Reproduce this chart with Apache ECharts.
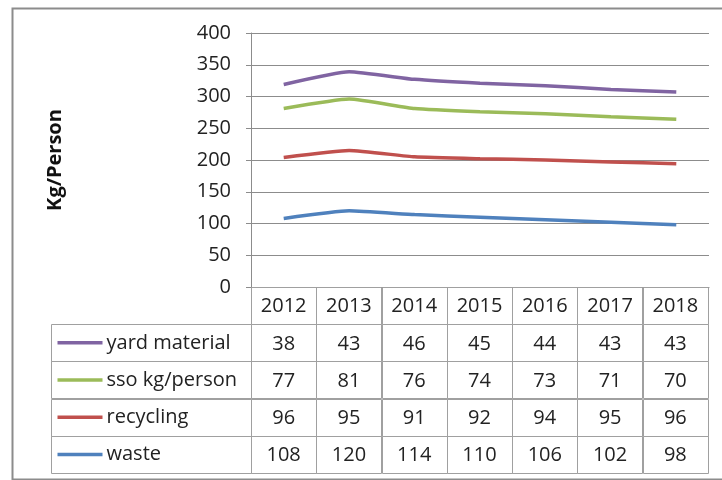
<!DOCTYPE html>
<html>
<head>
<meta charset="utf-8">
<script src="https://cdn.jsdelivr.net/npm/echarts@6/dist/echarts.min.js"></script>
<style>
html, body { margin: 0; padding: 0; background: #fff; }
#main { width: 722px; height: 480px; }
</style>
</head>
<body>
<div id="main"></div>
<script>
// 数据
var years = ['2012', '2013', '2014', '2015', '2016', '2017', '2018'];
var rowNames = ['yard material', 'sso kg/person', 'recycling', 'waste'];
var yardData = [38, 43, 46, 45, 44, 43, 43];
var ssoData = [77, 81, 76, 74, 73, 71, 70];
var recyclingData = [96, 95, 91, 92, 94, 95, 96];
var wasteData = [108, 120, 114, 110, 106, 102, 98];
var yMin = 0, yMax = 400, yStep = 50;

var rowColors = ['#8064A2', '#9BBB59', '#C0504D', '#4F81BD'];
var font = '"Open Sans", Lato, sans-serif';

// 表格: 第0行是年份, 其余行按图例顺序
var tableRows = [years, yardData, ssoData, recyclingData, wasteData];
var tableCells = [];
for (var r = 0; r < tableRows.length; r++) {
	for (var c = 0; c < years.length; c++) {
		tableCells.push([c, r]);
	}
}
var labelCells = [];
for (var i = 0; i < rowNames.length; i++) {
	labelCells.push([0, i + 1]);
}

function cellRect(params, api) {
	var center = api.coord([api.value(0), api.value(1)]);
	var size = api.size([1, 1]);
	var x = Math.round(center[0] - size[0] / 2) + 0.5;
	var y = Math.round(center[1] - size[1] / 2) + 0.5;
	return { x: x, y: y, w: Math.round(size[0]), h: Math.round(size[1]), cx: center[0], cy: center[1] };
}

function renderValueCell(params, api) {
	var b = cellRect(params, api);
	var txt = String(tableRows[api.value(1)][api.value(0)]);
	return {
		type : 'group',
		children : [ {
			type : 'rect',
			shape : { x : b.x, y : b.y, width : b.w, height : b.h },
			style : { fill : 'none', stroke : '#a0a0a0', lineWidth : 1 }
		}, {
			type : 'text',
			style : {
				x : b.cx, y : b.cy + 1, text : txt,
				align : 'center', verticalAlign : 'middle',
				font : '20px ' + font, fill : '#222'
			}
		} ]
	};
}

function renderLabelCell(params, api) {
	var b = cellRect(params, api);
	var idx = api.value(1) - 1;
	return {
		type : 'group',
		children : [ {
			type : 'rect',
			shape : { x : b.x, y : b.y, width : b.w, height : b.h },
			style : { fill : 'none', stroke : '#a0a0a0', lineWidth : 1 }
		}, {
			type : 'line',
			shape : { x1 : b.x + 6, y1 : b.cy, x2 : b.x + 51, y2 : b.cy },
			style : { stroke : rowColors[idx], lineWidth : 3.5 }
		}, {
			type : 'text',
			style : {
				x : b.x + 55, y : b.cy, text : rowNames[idx],
				align : 'left', verticalAlign : 'middle',
				font : '20px ' + font, fill : '#222'
			}
		} ]
	};
}

function lineSeries(name, data, color) {
	return {
		name : name,
		type : 'line',
		stack : 'total',
		smooth : 0.15,
		symbol : 'none',
		xAxisIndex : 0,
		yAxisIndex : 0,
		lineStyle : { color : color, width : 3.5 },
		data : data
	};
}

var chart = echarts.init(document.getElementById('main'));
var option = {
	animation : false,
	backgroundColor : '#fff',
	graphic : [ {
		type : 'rect',
		left : 10, top : 6,
		shape : { width : 720, height : 471 },
		style : { fill : 'none', stroke : '#8c8c8c', lineWidth : 2 },
		z : 100
	} ],
	grid : [
		{ left : 251, right : 13, top : 33, bottom : 193 },
		{ left : 251, right : 14, top : 287, bottom : 7 },
		{ left : 51, width : 200, top : 287, bottom : 7 }
	],
	xAxis : [ {
		gridIndex : 0,
		type : 'category',
		data : years,
		boundaryGap : true,
		axisLine : { show : true, lineStyle : { color : '#8c8c8c', width : 1 } },
		axisTick : { show : false },
		axisLabel : { show : false }
	}, {
		gridIndex : 1,
		type : 'category',
		data : years,
		show : false
	}, {
		gridIndex : 2,
		type : 'category',
		data : [ 'label' ],
		show : false
	} ],
	yAxis : [ {
		gridIndex : 0,
		type : 'value',
		min : yMin,
		max : yMax,
		interval : yStep,
		name : 'Kg/Person',
		nameLocation : 'middle',
		nameRotate : 90,
		nameGap : 186,
		nameTextStyle : { fontFamily : font, fontSize : 20, fontWeight : 'bold', color : '#111' },
		axisLine : { show : true, lineStyle : { color : '#8c8c8c', width : 1 } },
		axisTick : { show : true, length : 5, lineStyle : { color : '#8c8c8c' } },
		axisLabel : { fontFamily : font, fontSize : 20, color : '#222', margin : 20 },
		splitLine : { show : true, lineStyle : { color : '#8c8c8c', width : 1 } }
	}, {
		gridIndex : 1,
		type : 'category',
		inverse : true,
		data : [ 'year' ].concat(rowNames),
		show : false
	}, {
		gridIndex : 2,
		type : 'category',
		inverse : true,
		data : [ 'year' ].concat(rowNames),
		show : false
	} ],
	series : [
		lineSeries('waste', wasteData, rowColors[3]),
		lineSeries('recycling', recyclingData, rowColors[2]),
		lineSeries('sso kg/person', ssoData, rowColors[1]),
		lineSeries('yard material', yardData, rowColors[0]),
		{
			type : 'custom',
			xAxisIndex : 1,
			yAxisIndex : 1,
			renderItem : renderValueCell,
			data : tableCells
		}, {
			type : 'custom',
			xAxisIndex : 2,
			yAxisIndex : 2,
			renderItem : renderLabelCell,
			data : labelCells
		}
	]
};
chart.setOption(option);
</script>
</body>
</html>
